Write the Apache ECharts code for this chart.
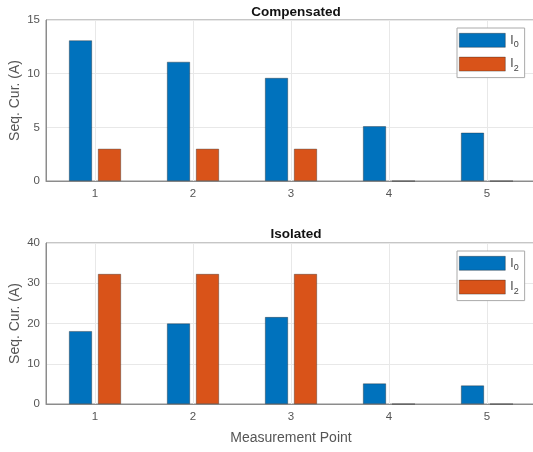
<!DOCTYPE html>
<html>
<head>
<meta charset="utf-8">
<script src="https://cdn.jsdelivr.net/npm/echarts@6/dist/echarts.min.js"></script>
<style>
html,body{margin:0;padding:0;background:#fff;}
#main{width:533px;height:452px;}
</style>
</head>
<body>
<div id="main"></div>
<script>
var points = ['1', '2', '3', '4', '5'];
var compI0 = [13.1, 11.1, 9.6, 5.1, 4.5];
var compI2 = [3.0, 3.0, 3.0, 0, 0];
var isoI0 = [18.1, 20.0, 21.6, 5.1, 4.6];
var isoI2 = [32.3, 32.3, 32.3, 0, 0];

var blue = '#0072BD';
var orange = '#D95319';
var fontName = 'Liberation Sans, Arial, sans-serif';

function makeX(idx, withName) {
	return {
		type: 'category',
		gridIndex: idx,
		data: points,
		axisLine: { show: true, lineStyle: { color: '#8c8c8c' } },
		axisTick: { show: false },
		axisLabel: { color: '#555', fontSize: 11.5, fontFamily: fontName, margin: 7 },
		splitLine: { show: true, alignWithLabel: true, lineStyle: { color: '#e8e8e8' } },
		name: withName ? 'Measurement Point' : '',
		nameLocation: 'middle',
		nameGap: 27,
		nameMoveOverlap: false,
		nameTextStyle: { color: '#555', fontSize: 14, fontFamily: fontName }
	};
}

function makeY(idx, max, step) {
	return {
		type: 'value',
		gridIndex: idx,
		min: 0,
		max: max,
		interval: step,
		axisLine: { show: true, lineStyle: { color: '#8c8c8c' } },
		axisTick: { show: false },
		axisLabel: { color: '#555', fontSize: 11.5, fontFamily: fontName, margin: 6 },
		splitLine: { show: true, lineStyle: { color: '#e8e8e8' } },
		name: 'Seq. Cur. (A)',
		nameLocation: 'middle',
		nameGap: 24,
		nameMoveOverlap: false,
		nameTextStyle: { color: '#555', fontSize: 14, fontFamily: fontName }
	};
}

function makeBar(name, idx, data, col) {
	return {
		name: name,
		type: 'bar',
		xAxisIndex: idx,
		yAxisIndex: idx,
		data: data,
		barWidth: 23,
		barGap: '26%',
		itemStyle: { color: col, borderColor: 'rgba(30,30,30,0.6)', borderWidth: 0.6 }
	};
}

function makeLegend(top) {
	return {
		orient: 'vertical',
		left: 457,
		top: top,
		icon: 'rect',
		itemWidth: 46,
		itemHeight: 14,
		itemGap: 8,
		padding: [5, 6, 5, 2],
		backgroundColor: '#fff',
		borderColor: '#aaa',
		borderWidth: 1,
		data: ['I0', 'I2'],
		formatter: function (n) {
			return 'I{s|' + n.substr(1) + '}';
		},
		textStyle: {
			color: '#444', fontSize: 12, fontFamily: fontName,
			rich: { s: { fontSize: 9, color: '#444', padding: [8, 0, 0, 0] } }
		},
		itemStyle: { borderColor: 'rgba(30,30,30,0.6)', borderWidth: 0.6 }
	};
}

var myChart = echarts.init(document.getElementById('main'));
var option = {
	animation: false,
	color: [blue, orange],
	title: [
		{ text: 'Compensated', left: 291, top: 0, textAlign: 'center',
		  textStyle: { fontSize: 13.5, fontWeight: 'bold', color: '#111', fontFamily: fontName } },
		{ text: 'Isolated', left: 291, top: 222, textAlign: 'center',
		  textStyle: { fontSize: 13.5, fontWeight: 'bold', color: '#111', fontFamily: fontName } }
	],
	grid: [
		{ left: 46, top: 20, width: 490, height: 161, outerBoundsMode: 'none', containLabel: false,
		  show: true, borderColor: '#8c8c8c', borderWidth: 1 },
		{ left: 46, top: 243, width: 490, height: 161, outerBoundsMode: 'none', containLabel: false,
		  show: true, borderColor: '#8c8c8c', borderWidth: 1 }
	],
	legend: [makeLegend(28), makeLegend(251)],
	xAxis: [makeX(0, false), makeX(1, true)],
	yAxis: [makeY(0, 15, 5), makeY(1, 40, 10)],
	series: [
		makeBar('I0', 0, compI0, blue),
		makeBar('I2', 0, compI2, orange),
		makeBar('I0', 1, isoI0, blue),
		makeBar('I2', 1, isoI2, orange)
	]
};
myChart.setOption(option, true);
</script>
</body>
</html>
